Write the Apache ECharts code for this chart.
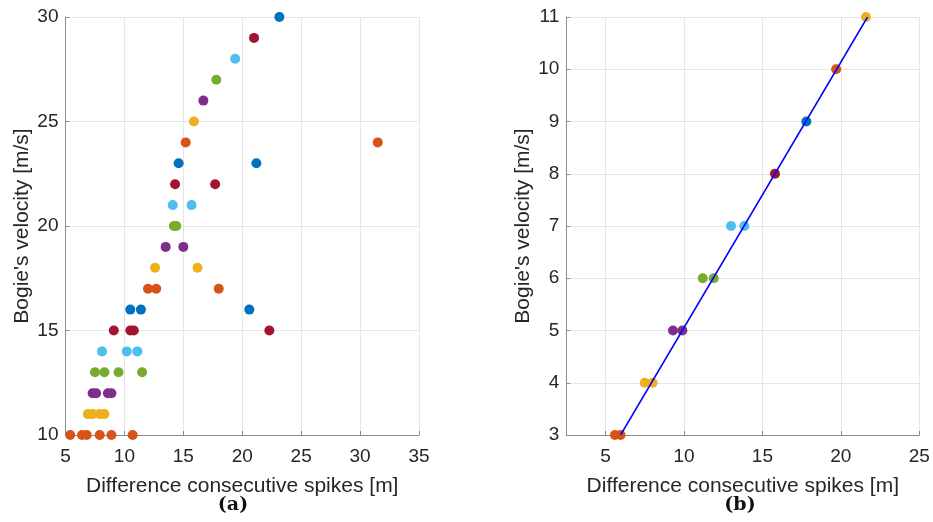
<!DOCTYPE html>
<html>
<head>
<meta charset="utf-8">
<script src="https://cdn.jsdelivr.net/npm/echarts@6/dist/echarts.min.js"></script>
<style>html,body{margin:0;padding:0;background:#fff;}#c{width:933px;height:522px;}</style>
</head>
<body>
<div id="c"></div>
<script>
// ---- data ----
const palette = ['#0072BD', '#D95319', '#EDB120', '#7E2F8E', '#77AC30', '#4DBEEE', '#A2142F'];

// (a) velocity [m/s] and measured spike differences [m]
const leftVelocity = [10, 11, 12, 13, 14, 15, 16, 17, 18, 19, 20, 21, 22, 23, 24, 25, 26, 27, 28, 29, 30];
const leftSpacing = [
  [5.4, 6.4, 6.8, 7.9, 8.9, 10.7],
  [6.9, 7.3, 7.9, 8.3],
  [7.3, 7.6, 8.6, 8.9],
  [7.5, 8.3, 9.5, 11.5],
  [8.1, 10.2, 11.1],
  [9.1, 10.5, 10.8, 22.3],
  [10.5, 11.4, 20.6],
  [12.0, 12.7, 18.0],
  [12.6, 16.2],
  [13.5, 15.0],
  [14.2, 14.4],
  [14.1, 15.7],
  [14.3, 17.7],
  [14.6, 21.2],
  [15.2, 31.5],
  [15.9],
  [16.7],
  [17.8],
  [19.4],
  [21.0],
  [23.15]
];

// (b)
const rightVelocity = [3, 4, 5, 6, 7, 8, 9, 10, 11];
const rightSpacing = [
  [5.6, 5.96],
  [7.5, 8.0],
  [9.3, 9.9],
  [11.2, 11.9],
  [13.0, 13.85],
  [15.8],
  [17.8],
  [19.7],
  [21.6]
];
const fitX = [5.96, 21.7];
const fitY = [3, 11];

const leftXTicks = [5, 10, 15, 20, 25, 30, 35];
const rightXTicks = [5, 10, 15, 20, 25];

// ---- chart ----
const textColor = '#262626';
const axisColor = '#8c8c8c';
const gridColor = '#e6e6e6';
const fontFam = "'Liberation Sans', Arial, sans-serif";

function colorFor(v) { return palette[(v - 2) % 7]; }

function makeX(idx, min, max, ticks) {
  return {
    type: 'value', gridIndex: idx, min: min, max: max,
    name: 'Difference consecutive spikes [m]', nameLocation: 'middle', nameGap: 41,
    nameTextStyle: { fontSize: 21, color: textColor, fontFamily: fontFam },
    axisLine: { show: true, onZero: false, lineStyle: { color: axisColor, width: 1 } },
    axisTick: { show: true, inside: true, length: 4, lineStyle: { color: axisColor }, customValues: ticks },
    axisLabel: { fontSize: 19, color: textColor, fontFamily: fontFam, margin: 12, customValues: ticks },
    splitLine: { show: true, lineStyle: { color: gridColor, width: 1 } }
  };
}
function makeY(idx, min, max, interval, gap) {
  return {
    type: 'value', gridIndex: idx, min: min, max: max, interval: interval,
    name: "Bogie's velocity [m/s]", nameLocation: 'middle', nameGap: gap,
    nameTextStyle: { fontSize: 21, color: textColor, fontFamily: fontFam },
    axisLine: { show: true, onZero: false, lineStyle: { color: axisColor, width: 1 } },
    axisTick: { show: true, inside: true, length: 4, lineStyle: { color: axisColor } },
    axisLabel: { fontSize: 19, color: textColor, fontFamily: fontFam, margin: 7 },
    splitLine: { show: true, lineStyle: { color: gridColor, width: 1 } }
  };
}

const series = [];
leftVelocity.forEach((v, i) => {
  series.push({
    type: 'scatter', xAxisIndex: 0, yAxisIndex: 0, symbolSize: 10,
    itemStyle: { color: colorFor(v), opacity: 1 },
    data: leftSpacing[i].map(x => [x, v]), silent: true
  });
});
rightVelocity.forEach((v, i) => {
  series.push({
    type: 'scatter', xAxisIndex: 1, yAxisIndex: 1, symbolSize: 10,
    itemStyle: { color: colorFor(v), opacity: 1 },
    data: rightSpacing[i].map(x => [x, v]), silent: true
  });
});
series.push({
  type: 'line', xAxisIndex: 1, yAxisIndex: 1, z: 10, symbol: 'none',
  lineStyle: { color: '#0000FF', width: 1.5 },
  data: fitX.map((x, i) => [x, fitY[i]]), silent: true
});

const chart = echarts.init(document.getElementById('c'), null, { renderer: 'canvas' });
chart.setOption({
  animation: false,
  backgroundColor: '#fff',
  title: [
    { text: '(a)', left: 228, top: 491, textAlign: 'center',
      textStyle: { fontSize: 19, fontWeight: 'bold', color: '#111', fontFamily: "'DejaVu Serif', 'Liberation Serif', serif" } },
    { text: '(b)', left: 735, top: 491, textAlign: 'center',
      textStyle: { fontSize: 19, fontWeight: 'bold', color: '#111', fontFamily: "'DejaVu Serif', 'Liberation Serif', serif" } }
  ],
  grid: [
    { left: 65.5, right: 514, top: 17, bottom: 87, containLabel: false },
    { left: 566.3, right: 13.7, top: 17, bottom: 87, containLabel: false }
  ],
  xAxis: [makeX(0, 5, 35, leftXTicks), makeX(1, 2.5, 25, rightXTicks)],
  yAxis: [makeY(0, 10, 30, 5, 33), makeY(1, 3, 11, 1, 33)],
  series: series
});
</script>
</body>
</html>
